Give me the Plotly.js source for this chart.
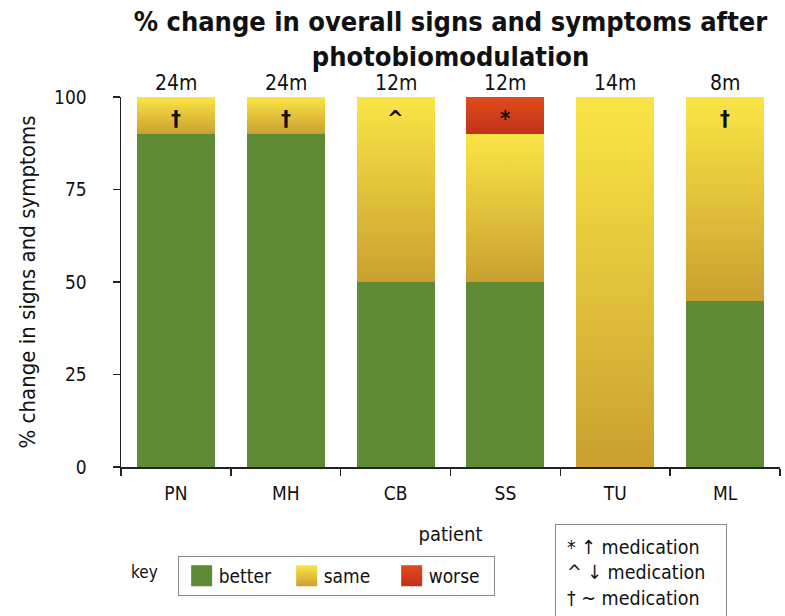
<!DOCTYPE html>
<html>
<head>
<meta charset="utf-8">
<script src="https://cdn.plot.ly/plotly-3.0.1.min.js"></script>
<style>html,body{margin:0;padding:0;background:#fff;}</style>
</head>
<body>
<div id="chart" style="width:785px;height:616px;"></div>
<script>
const patients = ['PN', 'MH', 'CB', 'SS', 'TU', 'ML'];
const better = [90, 90, 50, 50, 0, 45];
const same = [10, 10, 50, 40, 100, 55];
const worse = [0, 0, 0, 10, 0, 0];
const followUp = ['24m', '24m', '12m', '12m', '14m', '8m'];
const medMarks = ['†', '†', '^', '*', '', '†'];
const yTicks = [0, 25, 50, 75, 100];
const keyLines = ['* ↑ medication', '^ ↓ medication', '† ~ medication'];

const COND = 'DejaVu Sans Condensed, DejaVu Sans, sans-serif';

const traces = [
  {name: 'better', x: patients, y: better, type: 'bar', marker: {color: '#5e8a36'}},
  {name: 'same', x: patients, y: same, type: 'bar', marker: {color: '#e3c43a'}},
  {name: 'worse', x: patients, y: worse, type: 'bar', marker: {color: '#d23f1c'}}
];

const annotations = [];
patients.forEach((p, i) => {
  annotations.push({x: p, y: 100, xref: 'x', yref: 'y', text: followUp[i], showarrow: false,
    yanchor: 'bottom', yshift: 0, font: {family: COND, size: 21, color: '#111'}});
  if (medMarks[i]) {
    annotations.push({x: p, y: 94.3, xref: 'x', yref: 'y', text: '<b>' + medMarks[i] + '</b>', showarrow: false,
      yanchor: 'middle', font: {family: COND, size: 22, color: '#111'}});
  }
});
annotations.push({x: 0.012, y: -0.283, xref: 'paper', yref: 'paper', text: 'key', showarrow: false,
  xanchor: 'left', yanchor: 'middle', font: {family: COND, size: 17, color: '#111'}});
annotations.push({x: 0.658, y: -0.1536, xref: 'paper', yref: 'paper', text: keyLines.join('<br>'),
  showarrow: false, xanchor: 'left', yanchor: 'top', align: 'left', bordercolor: '#888', borderwidth: 1,
  width: 148, borderpad: 11, bgcolor: '#fff', yshift: 0,
  font: {family: COND, size: 19.5, color: '#111'}});

const layout = {
  width: 785, height: 616,
  margin: {l: 121, r: 5, t: 97, b: 149},
  paper_bgcolor: '#fff', plot_bgcolor: '#fff',
  barmode: 'stack', bargap: 0.29,
  title: {text: '<b>% change in overall signs and symptoms after<br>photobiomodulation</b>',
    x: 0.5, xref: 'paper', xanchor: 'center', yref: 'container', y: 0.95, yanchor: 'top',
    font: {family: COND, size: 27, color: '#111'}},
  xaxis: {type: 'category', showline: true, linecolor: '#222', linewidth: 1.5,
    ticks: 'outside', tickson: 'boundaries', ticklen: 7, tickcolor: '#222', tickwidth: 1.5,
    ticklabelstandoff: 9,
    tickfont: {family: COND, size: 19, color: '#111'},
    title: {text: 'patient', standoff: 23, font: {family: COND, size: 20, color: '#111'}},
    showgrid: false, zeroline: false, fixedrange: true},
  yaxis: {range: [0, 100], tickvals: yTicks, showline: true, linecolor: '#222', linewidth: 1.5,
    ticks: 'outside', ticklen: 7, tickcolor: '#222', tickwidth: 1.5, ticklabelstandoff: 22,
    tickfont: {family: COND, size: 19, color: '#111'},
    title: {text: '% change in signs and symptoms', standoff: 12, font: {family: COND, size: 22, color: '#111'}},
    showgrid: false, zeroline: false, fixedrange: true},
  showlegend: true,
  legend: {orientation: 'h', x: 0.086, y: -0.24, xanchor: 'left', yanchor: 'top',
    traceorder: 'normal', bordercolor: '#888', borderwidth: 1, bgcolor: '#fff',
    font: {family: COND, size: 19, color: '#111'}, itemwidth: 30, entrywidth: 60},
  annotations: annotations
};

Plotly.newPlot('chart', traces, layout, {displayModeBar: false, staticPlot: true}).then(gd => {
  const svg = gd.querySelector('svg.main-svg');
  const ns = 'http://www.w3.org/2000/svg';
  let defs = svg.querySelector('defs');
  if (!defs) { defs = document.createElementNS(ns, 'defs'); svg.insertBefore(defs, svg.firstChild); }
  function grad(id, stops) {
    const g = document.createElementNS(ns, 'linearGradient');
    g.setAttribute('id', id); g.setAttribute('x1', '0'); g.setAttribute('y1', '0');
    g.setAttribute('x2', '0'); g.setAttribute('y2', '1');
    stops.forEach(([o, c]) => {
      const s = document.createElementNS(ns, 'stop');
      s.setAttribute('offset', o); s.setAttribute('stop-color', c); g.appendChild(s);
    });
    defs.appendChild(g);
  }
  grad('gSame', [['0', '#fbe545'], ['1', '#c9a030']]);
  grad('gWorse', [['0', '#e24a1c'], ['1', '#bf3319']]);
  const ids = [null, 'gSame', 'gWorse'];
  gd.querySelectorAll('.barlayer .trace').forEach((t, i) => {
    if (ids[i]) t.querySelectorAll('path').forEach(p => p.style.fill = 'url(#' + ids[i] + ')');
  });
  gd.querySelectorAll('.legend .traces').forEach((t, i) => {
    t.querySelectorAll('.legendpoints path').forEach(p => {
      const tr = p.getAttribute('transform') || '';
      p.setAttribute('transform', tr + ' translate(3,0) scale(1.75)');
      if (ids[i]) p.style.fill = 'url(#' + ids[i] + ')';
    });
  });
});
</script>
</body>
</html>
